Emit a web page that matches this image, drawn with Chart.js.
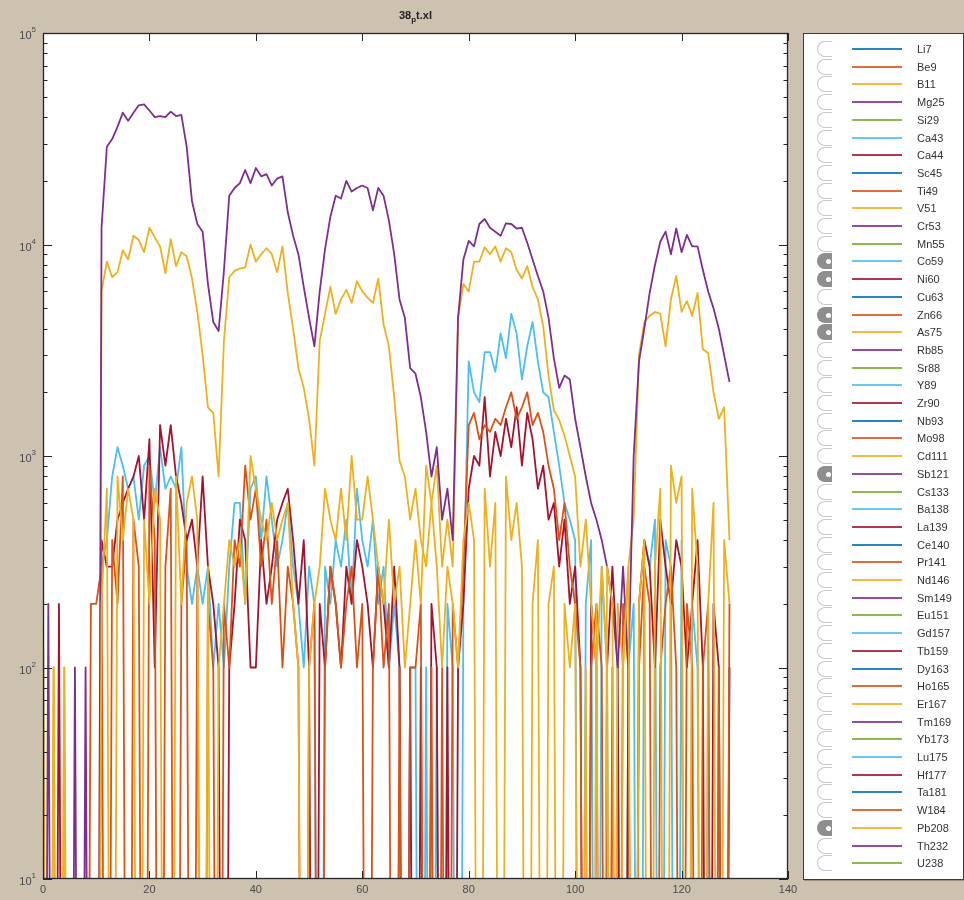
<!DOCTYPE html>
<html>
<head>
<meta charset="utf-8">
<script src="https://cdn.jsdelivr.net/npm/chart.js@4.4.1/dist/chart.umd.min.js"></script>
<style>
  body { margin: 0; background: #cdc2b0; font-family: "Liberation Sans", Arial, sans-serif; }
  #wrap { position: relative; width: 964px; height: 900px; overflow: hidden; }
  #c { position: absolute; left: 0; top: 0; }
  #legend { position: absolute; left: 803px; top: 33px; width: 159px; height: 845px; background: #fff;
            border: 1px solid #3a3a3a; box-shadow: 1px 1px 0 #9a9080; }
  .row { position: absolute; left: 0; width: 100%; height: 18px; }
  .sw { position: absolute; left: 13px; top: 1px; width: 15px; height: 16px; border: 1px solid #c8c8c8;
        border-right: none; border-radius: 8px 0 0 8px; box-sizing: border-box; }
  .sw.on { background: #8e8e8e; border-color: #8e8e8e; }
  .sw.on::after { content: ''; position: absolute; right: 1px; top: 5px; width: 5px; height: 5px;
                  border-radius: 50%; background: #fff; }
  .ln { position: absolute; left: 48px; top: 8px; width: 50px; height: 2px; opacity: 0.85; }
  .lb { position: absolute; left: 113px; top: 2px; font-size: 11px; line-height: 14px; color: #333; }
</style>
</head>
<body>
<div id="wrap">
  <canvas id="c" width="964" height="900"></canvas>
  <div id="legend"></div>
</div>
<script>
// 圖例的同位素清單
const isotopes = ['Li7', 'Be9', 'B11', 'Mg25', 'Si29', 'Ca43', 'Ca44', 'Sc45', 'Ti49', 'V51', 'Cr53', 'Mn55',
  'Co59', 'Ni60', 'Cu63', 'Zn66', 'As75', 'Rb85', 'Sr88', 'Y89', 'Zr90', 'Nb93', 'Mo98', 'Cd111', 'Sb121',
  'Cs133', 'Ba138', 'La139', 'Ce140', 'Pr141', 'Nd146', 'Sm149', 'Eu151', 'Gd157', 'Tb159', 'Dy163', 'Ho165',
  'Er167', 'Tm169', 'Yb173', 'Lu175', 'Hf177', 'Ta181', 'W184', 'Pb208', 'Th232', 'U238'];
const selected = ['Co59', 'Ni60', 'Zn66', 'As75', 'Sb121', 'Pb208'];
const palette = ['#0072BD', '#D95319', '#EDB120', '#7E2F8E', '#77AC30', '#4DBEEE', '#A2142F'];

// 各通道計數
const co59 = [200,0,0,0,0,0,0,0,0,0,
  0,300,400,800,1100,900,700,800,500,900,
  1000,600,1100,700,800,700,1100,300,200,300,
  200,300,100,200,100,300,600,600,200,700,
  800,400,800,500,300,400,600,300,200,100,
  300,200,0,300,200,400,300,500,200,700,
  400,300,500,200,300,100,200,100,0,100,
  100,0,100,0,100,0,200,100,0,200,
  2800,2000,1800,3100,3100,2500,3800,2900,4700,3800,
  2300,3300,4300,2800,2000,1900,1300,900,600,500,
  400,0,200,400,0,300,100,0,100,0,
  100,200,0,400,300,500,0,400,300,0,
  400,0,200,100,0,100,0,100,0,100];
const ni60 = [0,0,0,200,0,0,0,0,0,0,
  0,400,300,300,500,600,700,800,1000,500,
  1200,100,1400,900,1400,800,600,400,500,300,
  800,300,200,100,0,100,200,500,400,100,
  100,400,200,300,500,600,700,400,200,400,
  100,0,200,100,300,200,100,300,200,400,
  300,200,100,300,200,100,300,100,0,100,
  0,100,0,200,100,0,100,0,100,200,
  700,1000,900,1900,800,1300,1000,1500,1100,1700,
  900,1600,1200,700,900,500,600,300,500,200,
  300,100,0,200,100,0,100,300,100,0,
  100,0,200,400,300,100,500,300,200,400,
  300,100,200,400,100,0,200,100,0,100];
const zn66 = [0,0,0,0,0,0,0,0,0,200,
  200,300,0,400,200,800,0,500,300,0,
  900,400,0,300,700,0,200,400,0,300,
  0,200,100,0,200,100,400,300,900,500,
  700,300,500,200,400,100,300,200,100,0,
  100,200,0,100,300,200,100,200,300,100,
  200,0,100,300,100,200,0,100,0,100,
  100,200,0,100,0,100,0,200,100,300,
  1400,1600,1200,1400,1300,1500,1400,1700,2000,1500,
  1700,2000,1400,1600,1300,900,700,400,600,300,
  200,100,0,100,200,100,0,100,0,200,
  100,0,100,300,200,0,100,200,300,100,
  0,200,100,0,100,200,0,100,0,200];
const as75 = [300,0,100,0,100,0,0,0,0,0,
  0,6000,8300,7000,7400,9400,8500,11000,10500,9200,
  12000,10800,9800,7300,10600,7900,9200,8800,6900,4800,
  3000,1700,1600,800,3500,7000,7500,7700,7800,10000,
  8300,9000,9600,9000,7400,9800,5900,4000,2600,2100,
  1500,900,3500,4700,6300,4700,5500,6100,5300,6700,
  6000,5600,5300,6900,4200,3300,1900,950,800,500,
  700,400,300,600,900,300,500,300,4500,6500,
  6000,8300,8300,9700,9000,9800,8300,9600,9200,7600,
  6900,7900,6300,5500,4100,2400,1650,1480,1250,1000,
  800,300,500,200,100,300,100,0,200,100,
  300,500,3000,4300,4600,4800,4700,3300,5500,7100,
  4800,5400,4600,5900,3200,3070,2000,1500,1700,400];
const sb121 = [0,200,0,0,0,0,100,0,100,0,
  0,12000,29000,31500,36000,42000,38500,42000,45500,46000,
  43000,40000,40500,40000,42500,40500,41000,29000,16000,12500,
  11500,6500,4300,3900,7500,17000,18500,19500,22500,19500,
  23000,21000,21500,19000,20500,21000,14200,11000,9000,6300,
  4500,3300,6000,9500,13500,17000,16500,20000,17800,18500,
  19000,18500,14500,18500,17000,13000,9000,5500,4500,2600,
  2450,1900,1300,800,1100,500,700,400,4500,8500,
  10400,9800,12500,13200,12000,11500,11000,12600,12500,11900,
  12000,10200,8500,7100,6000,4500,2900,2100,2400,2300,
  1500,1100,800,600,500,400,300,200,100,300,
  100,1000,2800,4000,5900,8000,10300,11500,9000,11900,
  9200,11100,9800,9800,7600,6000,5000,4000,3000,2240];
const pb208 = [0,0,100,0,100,0,0,0,0,0,
  0,200,700,0,800,400,700,500,0,500,
  200,700,500,0,0,800,200,600,800,500,
  0,300,0,100,200,400,300,400,200,1000,
  700,500,400,600,400,500,600,200,100,0,
  100,200,300,700,500,400,700,400,1000,500,
  500,800,500,300,200,500,200,300,100,200,
  400,200,900,600,300,100,300,200,100,400,
  600,400,0,700,300,600,0,800,400,600,
  300,0,200,400,0,200,300,0,200,100,
  200,0,100,0,200,0,300,200,0,100,
  300,0,200,400,0,300,700,0,900,600,
  800,0,700,300,0,200,600,0,400,200];

const seriesData = { Co59: co59, Ni60: ni60, Zn66: zn66, As75: as75, Sb121: sb121, Pb208: pb208 };

// 刻度
const xTicks = [0, 20, 40, 60, 80, 100, 120, 140];
const yExponents = [1, 2, 3, 4, 5];

const time = co59.map((_, i) => i);
const colorOf = name => palette[isotopes.indexOf(name) % palette.length];

// 計數為 0 時在對數軸上往下落出圖框
const datasets = selected.map(name => ({
  label: name,
  data: seriesData[name].map(v => (v > 0 ? v : 0.001)),
  borderColor: colorOf(name),
  borderWidth: 1.8,
  borderJoinStyle: 'round',
  pointRadius: 0,
  fill: false,
  clip: 0,
  order: -isotopes.indexOf(name)
}));

const textColor = '#4a4a4a';

const frame = {
  id: 'frame',
  beforeDatasetsDraw(chart) {
    const { ctx, chartArea: a } = chart;
    ctx.save();
    ctx.fillStyle = '#fff';
    ctx.fillRect(a.left, a.top, a.right - a.left, a.bottom - a.top);
    ctx.restore();
  },
  afterDatasetsDraw(chart) {
    const { ctx, chartArea: a, scales: { x, y } } = chart;
    ctx.save();
    ctx.strokeStyle = '#262626';
    ctx.lineWidth = 1;
    ctx.beginPath();
    xTicks.forEach(v => {
      const px = Math.round(x.getPixelForValue(v)) + 0.5;
      ctx.moveTo(px, a.bottom); ctx.lineTo(px, a.bottom - 8);
      ctx.moveTo(px, a.top); ctx.lineTo(px, a.top + 8);
    });
    yExponents.forEach(e => {
      for (let m = 1; m <= 9; m++) {
        if (e === yExponents[yExponents.length - 1] && m > 1) break;
        const py = Math.round(y.getPixelForValue(m * Math.pow(10, e))) + 0.5;
        const len = m === 1 ? 9 : 4.5;
        ctx.moveTo(a.left, py); ctx.lineTo(a.left + len, py);
        ctx.moveTo(a.right, py); ctx.lineTo(a.right - len, py);
      }
    });
    ctx.stroke();
    ctx.lineWidth = 1.3;
    ctx.strokeRect(a.left + 0.5, a.top + 0.5, a.right - a.left - 1, a.bottom - a.top - 1);

    // 軸標籤
    ctx.fillStyle = textColor;
    ctx.textBaseline = 'middle';
    ctx.textAlign = 'center';
    ctx.font = '11px "Liberation Sans", Arial, sans-serif';
    xTicks.forEach(v => ctx.fillText(String(v), x.getPixelForValue(v), a.bottom + 11));

    yExponents.forEach(e => {
      const py = y.getPixelForValue(Math.pow(10, e));
      ctx.font = '8px "Liberation Sans", Arial, sans-serif';
      ctx.textAlign = 'right';
      const ew = ctx.measureText(String(e)).width;
      ctx.fillText(String(e), a.left - 7, py - 3);
      ctx.font = '11px "Liberation Sans", Arial, sans-serif';
      ctx.fillText('10', a.left - 7 - ew, py + 3);
    });

    // 標題 38_pt.xl
    ctx.fillStyle = '#222';
    ctx.textAlign = 'left';
    ctx.textBaseline = 'alphabetic';
    const big = 'bold 11px "Liberation Sans", Arial, sans-serif';
    const small = 'bold 8px "Liberation Sans", Arial, sans-serif';
    ctx.font = big;
    const w1 = ctx.measureText('38').width, w3 = ctx.measureText('t.xl').width;
    ctx.font = small;
    const w2 = ctx.measureText('p').width;
    let tx = (a.left + a.right) / 2 - (w1 + w2 + w3) / 2;
    ctx.font = big; ctx.fillText('38', tx, 19); tx += w1;
    ctx.font = small; ctx.fillText('p', tx, 22); tx += w2;
    ctx.font = big; ctx.fillText('t.xl', tx, 19);
    ctx.restore();
  }
};

new Chart(document.getElementById('c'), {
  type: 'line',
  data: { labels: time, datasets: datasets },
  options: {
    responsive: false,
    animation: false,
    layout: { padding: { left: 43, top: 33, right: 176, bottom: 21 } },
    scales: {
      x: { type: 'linear', min: 0, max: 140, display: false },
      y: { type: 'logarithmic', min: 10, max: 100000, display: false }
    },
    plugins: { legend: { display: false }, tooltip: { enabled: false } }
  },
  plugins: [frame]
});

// 右側圖例
const legend = document.getElementById('legend');
isotopes.forEach((name, i) => {
  const row = document.createElement('div');
  row.className = 'row';
  row.style.top = (15 + i * 17.7 - 9) + 'px';
  const on = selected.includes(name) ? ' on' : '';
  row.innerHTML = '<div class="sw' + on + '"></div>' +
    '<div class="ln" style="background:' + palette[i % palette.length] + '"></div>' +
    '<div class="lb">' + name + '</div>';
  legend.appendChild(row);
});
</script>
</body>
</html>
